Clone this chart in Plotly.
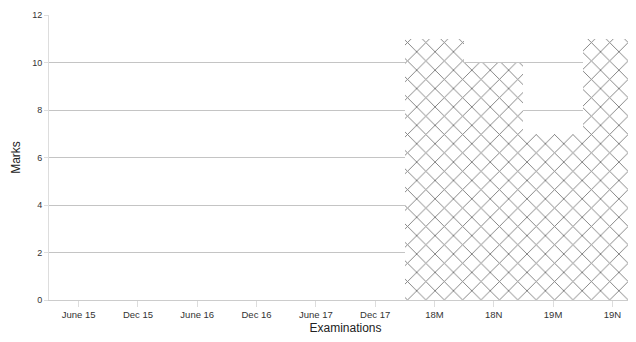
import plotly.graph_objects as go

categories = ["June 15", "Dec 15", "June 16", "Dec 16", "June 17", "Dec 17",
              "18M", "18N", "19M", "19N"]
marks = [None, None, None, None, None, None, 11, 10, 7, 11]
y_ticks = [0, 2, 4, 6, 8, 10, 12]

fig = go.Figure(go.Bar(
    x=categories, y=marks,
    marker=dict(color="white",
                line=dict(width=0),
                pattern=dict(shape="x", fgcolor="#000000", bgcolor="white",
                             size=13, solidity=0.14, fillmode="overlay")),
    width=1.0,
))

fig.update_layout(
    width=636, height=342,
    margin=dict(l=41, r=2, t=7, b=50, autoexpand=False),
    paper_bgcolor="white", plot_bgcolor="white",
    bargap=0, showlegend=False,
    font=dict(family="Liberation Sans, Arial, sans-serif", size=9, color="#333333"),
)
fig.update_xaxes(
    type="category", categoryorder="array", categoryarray=categories,
    range=[-0.5, 9.5],
    tickfont=dict(size=9.5),
    title=dict(text="Examinations", font=dict(size=12, color="#222222"), standoff=4),
    ticks="outside", ticklen=6, tickcolor="#dddddd",
    showline=True, linecolor="#cccccc", linewidth=1,
    showgrid=False,
)
fig.update_yaxes(
    range=[0, 12], tickvals=y_ticks,
    tickfont=dict(size=9),
    title=dict(text="Marks", font=dict(size=12, color="#222222"), standoff=8),
    showgrid=True, gridcolor="#c4c4c4", gridwidth=1,
    ticks="outside", ticklen=4, tickcolor="#dddddd",
    showline=True, linecolor="#dddddd", linewidth=1,
    zeroline=False,
)

fig.write_html("out.html")
